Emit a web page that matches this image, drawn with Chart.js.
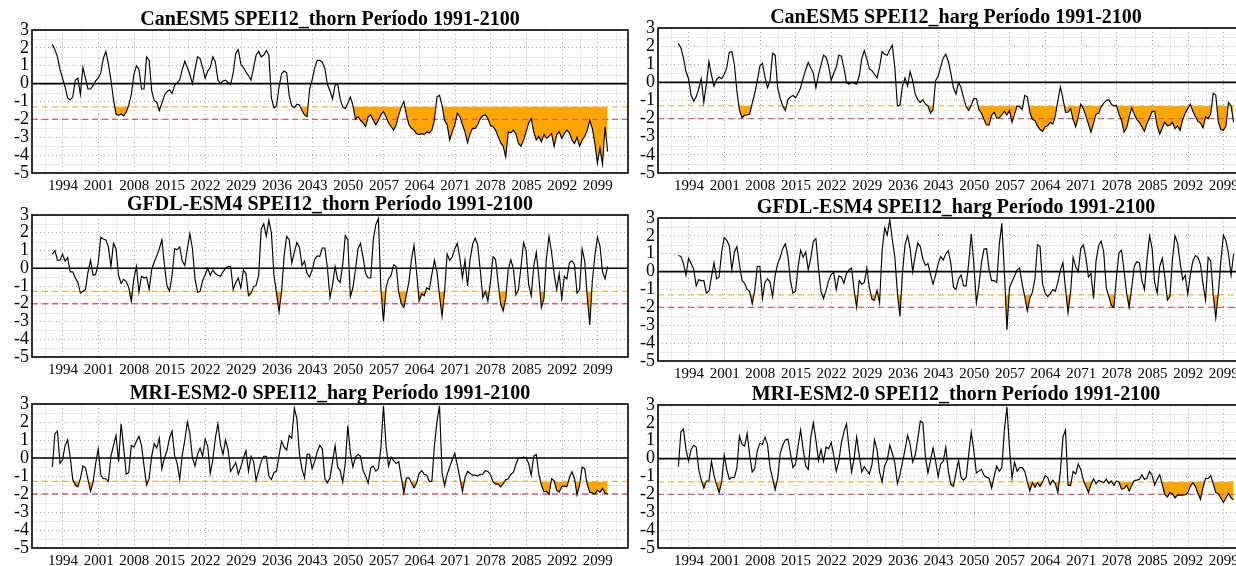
<!DOCTYPE html>
<html lang="es">
<head>
<meta charset="utf-8">
<title>SPEI12 Período 1991-2100</title>
<script src="https://cdn.jsdelivr.net/npm/chart.js@4.4.1/dist/chart.umd.min.js"></script>
<style>
  html, body { margin: 0; padding: 0; background: #ffffff; overflow: hidden; width: 1236px; height: 566px; }
  canvas { position: absolute; }
</style>
</head>
<body>
<script>
// SPEI-12 series, one value every half year starting December 1991
const START_YEAR = 1991 + 11 / 12;
const STEP_YEARS = 0.5;
const TICK_YEARS = [1994, 2001, 2008, 2015, 2022, 2029, 2036, 2043, 2050, 2057, 2064, 2071, 2078, 2085, 2092, 2099];
const Y_TICKS = [-5, -4, -3, -2, -1, 0, 1, 2, 3];
const MODERATE_DROUGHT = -1.3;
const EXTREME_DROUGHT = -2;

const canesm5Thorn = [
  2.2, 1.9, 1.5, 0.8, 0.3, -0.2, -0.8, -0.9, -0.75, 0.2, 0.3, -0.6, 0.9, 0.3, -0.3, -0.3, -0.1, 0.15, 0.3, 0.6,
  1.4, 1.8, 1.1, 0.2, -0.9, -1.7, -1.78, -1.7, -1.8, -1.6, -1.2, -0.6, 0.5, 1.0, 0.8, -0.3, -0.3, 1.5, 1.3, -0.4,
  -0.95, -1.05, -1.5, -1.1, -0.65, -0.45, -0.35, -0.55, -0.1, 0.05, 0.2, 0.8, 1.25, 0.9, 0.5, 0.0, 0.8, 1.5, 1.4, 0.9,
  0.3, 0.7, 0.9, 1.5, 1.2, 0.2, 0.0, 0.15, 0.2, 0.05, -0.05, 0.6, 1.7, 1.9, 1.1, 0.9, 0.65, 0.45, 0.2, 0.9,
  1.6, 1.8, 1.5, 1.6, 1.85, 1.6, -0.8, -1.35, -1.25, -0.2, 0.55, 0.7, 0.6, -0.7, -1.25, -1.35, -1.15, -1.2, -1.5, -1.75,
  -1.85, -0.3, 0.2, 0.9, 1.3, 1.3, 1.2, 0.85, -0.05, -0.4, -0.85, -0.1, 0.0, -0.85, -1.3, -1.4, -1.1, -0.75, -1.2, -2.0,
  -1.85, -2.05, -2.2, -2.4, -1.85, -1.75, -2.05, -2.3, -2.05, -1.75, -1.55, -1.85, -2.2, -2.4, -2.6, -2.3, -1.75, -1.3, -1.0, -1.75,
  -2.3, -2.5, -2.6, -2.8, -2.85, -2.8, -2.85, -2.7, -2.75, -2.6, -2.05, -0.75, -0.65, -1.2, -2.05, -2.3, -3.15, -2.7, -2.3, -1.65,
  -1.85, -2.3, -2.7, -3.3, -2.8, -2.5, -2.5, -2.3, -1.95, -1.8, -1.75, -1.95, -2.35, -2.4, -2.6, -2.95, -3.3, -3.5, -4.1, -2.7,
  -2.75, -2.6, -2.8, -3.35, -3.5, -3.15, -2.7, -2.2, -1.95, -2.7, -3.15, -2.95, -3.25, -2.85, -3.05, -2.95, -2.8, -3.5, -2.85, -2.7,
  -3.05, -2.8, -2.6, -2.75, -3.15, -3.35, -3.0, -3.5, -3.15, -2.95, -2.6, -2.05, -2.5, -3.35, -4.45, -3.6, -4.5, -2.4, -3.8
];

const canesm5Harg = [
  2.15, 1.9, 1.35, 0.6, 0.2, -0.7, -1.05, -0.8, -0.35, 0.2, -1.1, -0.1, 1.15, 0.4, -0.2, 0.15, 0.3, 0.2, 0.45, 0.8,
  1.65, 1.7, 1.0, -0.5, -1.55, -1.95, -1.82, -1.8, -1.75, -1.15, -0.6, 0.1, 0.9, 1.05, 0.3, -0.3, 0.1, 1.6, 1.5, -0.3,
  -0.9, -1.3, -1.55, -0.95, -0.8, -0.72, -0.85, -0.6, -0.3, 0.25, 0.7, 1.1, 0.8, 0.5, -0.3, 0.4, 0.95, 1.5, 1.4, 0.9,
  0.1, 0.5, 0.85, 1.5, 1.45, 0.8, 0.0, -0.1, 0.0, -0.05, -0.1, 0.35, 1.3, 1.75, 1.3, 0.75, 0.65, 0.45, 0.25, 0.85,
  1.7, 1.55, 1.5, 1.8, 2.05, 0.8, -1.3, -1.25, -0.2, 0.25, -0.2, 0.6, 0.1, -0.65, -0.95, -1.1, -0.95, -1.2, -1.3, -1.7,
  -1.5, 0.1, 0.33, 0.85, 1.35, 1.55, 1.15, 0.5, -0.3, -0.65, 0.0, -0.3, -0.85, -1.35, -1.55, -1.25, -0.9, -0.9, -1.5, -1.7,
  -2.05, -2.35, -2.35, -1.8, -1.65, -1.97, -1.95, -1.8, -1.6, -1.8, -1.55, -2.2, -1.75, -1.3, -1.35, -1.5, -0.72, -0.8, -1.65, -2.05,
  -2.1, -2.4, -2.6, -2.7, -2.45, -2.4, -2.2, -2.3, -1.85, -1.0, -0.25, -0.9, -1.65, -1.65, -1.45, -2.05, -2.45, -1.9, -1.2, -1.45,
  -1.85, -2.3, -2.75, -2.25, -1.75, -1.7, -1.35, -1.15, -1.0, -0.95, -1.2, -1.3, -1.28, -1.75, -2.1, -2.75, -2.5, -1.9, -1.4, -1.75,
  -2.05, -2.2, -2.45, -2.7, -2.25, -1.95, -1.6, -1.6, -2.4, -2.85, -2.5, -2.2, -2.4, -2.35, -2.2, -2.55, -2.4, -2.65, -2.05, -1.7,
  -1.45, -1.2, -1.6, -1.88, -2.15, -2.25, -2.5, -1.9, -2.0, -1.75, -0.6, -0.7, -2.2, -2.6, -2.65, -2.4, -1.1, -1.3, -2.2
];

const gfdlThorn = [
  0.8, 1.0, 0.45, 0.45, 0.8, 0.4, 0.6, -0.2, -0.2, -0.55, -0.8, -1.4, -1.3, -1.2, -0.2, 0.45, -0.4, -0.35, 0.3, 1.75,
  1.65, 1.6, 1.2, 0.1, 1.4, 1.1, -0.4, -0.85, -0.63, -0.75, -1.1, -1.85, -0.6, 0.1, -1.35, -0.45, -0.55, -0.5, -1.2, -0.07,
  0.35, 0.7, 1.1, 1.6, 0.2, -1.0, -1.3, -0.4, 1.1, 1.05, 1.2, 0.4, 0.15, 1.1, 1.95, 1.1, -0.6, -1.35, -1.3, -0.7,
  -0.35, 0.0, -0.4, -0.1, -0.3, -0.4, -0.45, -0.2, 0.0, 0.1, 0.1, -1.2, -0.8, -0.55, -1.1, -0.1, -0.3, -1.55, -1.4, -1.05,
  -0.95, -0.4, 2.2, 2.5, 1.8, 2.7, 2.0, -0.4, -1.4, -2.45, -1.3, 0.7, 1.8, 1.6, 0.3, 0.9, 1.45, 1.2, 0.15, 0.4,
  -0.3, -0.5, -0.1, 0.5, 0.7, 0.67, 1.14, 1.14, 0.0, -1.65, -0.95, 0.1, -0.63, -0.8, 0.2, 1.85, 1.6, -1.6, -1.1, -0.1,
  1.1, 1.4, 0.6, -0.3, -0.55, -0.55, 1.6, 2.45, 2.8, -1.2, -3.0, -1.1, -0.6, -0.4, 0.2, 0.1, -1.35, -2.0, -2.2, -1.5,
  -0.75, 0.5, 1.3, -0.2, -1.85, -1.45, -1.55, -1.1, -1.2, -0.35, 0.45, -0.2, -1.55, -2.7, -1.3, 0.8, 0.45, 0.65, 1.1, 1.4,
  0.55, -0.55, 0.45, -1.0, 0.5, 1.35, 1.7, 1.3, -0.1, -1.65, -1.3, -1.85, -0.8, 0.65, 0.5, -0.8, -2.0, -2.4, -1.7, -0.05,
  0.48, 0.0, -1.5, -1.2, 0.1, 1.45, 1.0, -0.9, -1.55, 0.1, 0.9, -0.5, -2.2, -1.7, 0.6, 1.8, 0.9, -0.3, -1.2, -0.3,
  -1.7, -0.45, -0.6, 0.3, 0.42, 0.2, -1.4, -1.2, 1.1, 0.4, -1.6, -3.2, -0.7, 0.7, 1.75, 1.25, -0.2, -0.6, 0.1
];

const gfdlHarg = [
  0.9, 0.85, 0.45, -0.2, 0.75, 0.45, 0.15, -0.8, -0.45, -0.5, -0.5, -1.2, -1.1, -0.3, 0.5, -0.4, -0.3, 1.1, 1.9, 1.75,
  1.45, 0.1, 1.1, 1.4, 0.4, -0.5, -0.65, -1.0, -1.1, -1.8, -1.05, 0.3, 0.3, -1.5, -0.6, -0.4, -0.6, -1.4, -0.2, 0.45,
  0.8, 1.3, 1.55, 0.9, -0.5, -1.2, -1.1, 0.25, 1.2, 0.8, 1.1, 0.1, 0.75, 1.7, 1.85, 0.2, -1.1, -1.5, -1.05, -0.5,
  -0.15, -0.05, -1.0, -0.25, -0.3, -0.65, -0.1, 0.1, 0.2, -1.05, -2.0, -0.5, -0.7, -0.6, 0.2, -0.9, -1.55, -1.6, -1.05, -1.75,
  1.2, 2.45, 2.05, 2.9, 1.8, 0.8, -1.2, -2.5, -0.05, 1.5, 2.0, 1.3, 0.0, 0.9, 1.6, 1.4, 0.7, 0.35, 0.45, -0.15,
  -0.7, -0.2, 0.45, 0.85, 0.65, 1.0, 1.17, 0.45, -0.87, -1.0, -0.4, -0.2, -0.8, -0.8, 0.5, 2.1, 0.45, -1.75, -0.8, 0.5,
  1.26, 1.28, 0.1, -0.5, -0.5, -0.6, 1.5, 2.7, 0.0, -3.25, -0.9, -0.55, -0.25, 0.1, 0.2, -0.7, -1.4, -2.2, -1.5, -1.15,
  -0.4, 1.5, 1.4, -0.7, -1.2, -1.4, -1.24, -1.0, -1.1, -0.6, 0.1, 0.5, -0.95, -2.3, -1.15, 0.8, 0.25, 0.0, 1.3, 1.5,
  0.8, -0.3, -0.1, -1.5, 0.6, 1.45, 1.7, 1.1, -0.9, -1.4, -1.9, -2.0, -0.3, 1.05, 1.2, 0.05, -1.2, -2.0, -0.9, 0.3,
  0.55, 0.5, -0.5, -1.0, 0.7, 2.0, 1.3, -0.6, -1.2, 0.3, 0.75, -0.3, -1.6, -1.4, 0.7, 2.0, 1.6, 0.5, -0.45, -0.2,
  -1.25, -0.2, 0.6, 0.9, 0.8, 0.4, -0.7, -1.6, 0.8, 0.6, -1.3, -2.6, -1.2, 0.6, 2.05, 1.72, 1.0, -0.2, 1.0
];

const mriHarg = [
  -0.5, 1.35, 1.5, -0.3, -0.1, 0.7, 1.0, 0.05, -1.2, -1.5, -1.6, -1.15, -0.45, -0.55, -1.2, -1.85, -1.35, -0.3, 0.5, -0.95,
  -1.15, -1.15, -1.3, 0.1, 0.7, 1.25, -0.2, 1.9, 0.55, -0.9, -0.8, 0.7, 0.6, 0.93, 1.2, 0.7, -0.45, -1.5, -1.15, 0.1,
  0.8, 0.55, 1.1, -0.6, 0.0, 0.4, 1.1, 1.5, 0.15, -0.3, -1.2, 0.15, 1.0, 2.0, 1.35, 0.0, -0.45, 0.2, 0.55, 0.1,
  1.05, 0.65, -0.85, -0.1, 1.1, 1.9, 0.74, 0.2, 1.0, 0.45, -0.75, -0.5, -0.25, -0.9, -0.5, 0.0, 0.4, -0.74, 0.1, -0.2,
  -1.25, -0.7, -0.2, 0.1, 0.1, -1.0, -1.2, -0.8, -0.74, 0.15, 0.93, 0.6, 0.45, 1.25, 1.1, 2.75, 2.2, 0.25, -0.6, -1.1,
  0.2, 0.2, -0.6, -0.2, 0.35, 0.7, 0.5, -1.15, -1.38, -1.1, -0.2, 0.7, -0.5, -0.7, -1.35, -0.3, 1.8, 0.3, -0.5, 0.05,
  0.2, 0.1, -0.7, -1.0, -1.4, -0.55, -0.45, -0.73, -0.6, 0.6, 2.9, 0.7, -0.45, 0.05, -0.15, -0.3, -0.2, -1.1, -1.94, -1.1,
  -1.1, -1.38, -1.65, -1.4, -0.85, -0.7, -0.9, -0.95, -1.3, -1.3, 0.7, 2.0, 2.9, -0.8, -1.55, -0.9, -0.5, -0.1, 0.25, -0.4,
  -1.1, -1.85, -1.1, -0.75, -0.85, -0.95, -0.95, -1.0, -0.9, -0.9, -0.7, -0.75, -0.93, -1.3, -1.45, -1.45, -1.6, -1.43, -1.2, -1.15,
  -0.9, -0.8, -0.35, 0.0, 0.0, 0.05, 0.0, -0.3, -0.95, 0.1, 0.2, -0.9, -1.5, -1.87, -1.85, -2.02, -1.15, -1.25, -1.8, -1.9,
  -1.6, -1.55, -1.6, -1.1, -0.77, -1.15, -2.05, -1.5, -0.5, -0.6, -1.45, -1.9, -1.95, -2.0, -1.8, -1.9, -1.7, -1.94, -2.0
];

const mriThorn = [
  -0.45, 1.5, 1.65, 0.5, -0.15, 0.5, 0.75, 0.65, -0.6, -1.2, -1.65, -1.25, -1.25, -0.15, -0.95, -1.45, -1.9, -1.3, 0.2, -0.6,
  -1.15, -1.05, -1.05, -0.5, 1.25, 0.8, 0.7, 1.4, 0.2, -0.75, -0.56, 0.45, 0.85, 0.8, 1.2, 0.8, -0.5, -1.1, -1.75, -1.1,
  0.3, 0.75, 1.05, 1.1, 0.3, -0.5, -0.3, 0.7, 1.6, 0.5, -0.4, -0.6, 1.2, 2.0, 1.05, -0.1, 0.5, -0.15, 0.65, 0.55,
  0.9, 0.19, -0.7, -0.15, 0.9, 1.5, 1.95, 0.6, -0.75, 0.0, 1.21, 0.2, -0.75, -0.45, -0.65, -0.85, -0.35, 1.05, 0.5, -0.75,
  -1.3, -0.4, -0.1, 0.75, 0.3, -0.25, -1.4, -0.9, -0.2, 0.5, 1.3, 0.8, -0.2, 0.2, 1.1, 2.1, 2.0, 0.1, -0.8, -0.1,
  0.6, -0.15, -1.0, -0.3, -0.15, 0.65, -0.7, -1.45, -1.55, -0.8, -0.1, -1.05, -1.2, -1.05, 0.25, 1.48, 0.45, -0.8, -0.7, -0.6,
  -0.93, -1.05, -1.1, -1.65, -1.0, -0.42, -0.7, -0.5, 1.6, 2.9, 0.6, -1.1, -0.2, -0.7, -0.5, -0.5, -0.7, -1.3, -1.8, -1.35,
  -1.6, -1.35, -1.55, -1.3, -0.95, -1.05, -1.45, -1.2, -1.4, -1.9, -0.7, 1.2, 1.6, -1.5, -1.5, -0.72, -0.85, -0.3, -0.6, -1.2,
  -1.55, -1.9, -1.45, -1.13, -1.4, -1.22, -1.28, -1.35, -1.15, -1.4, -1.25, -1.5, -1.25, -1.32, -1.7, -1.67, -1.48, -1.82, -1.5, -1.23,
  -1.2, -1.15, -0.9, -1.15, -1.1, -0.72, -0.93, -1.47, -1.15, -0.9, -1.45, -2.0, -2.15, -1.9, -1.96, -2.2, -2.03, -2.04, -2.04, -2.02,
  -1.92, -1.55, -1.35, -1.55, -1.95, -2.28, -1.6, -1.1, -1.11, -0.95, -1.4, -1.9, -1.97, -2.2, -2.45, -2.2, -1.95, -2.2, -2.3
];

// ---- layout and styling ----
const X_MIN = 1987.92;
const X_MAX = 2104.92;
const CANVAS_W = 640;
const Y_AXIS_W = 32;
const X_AXIS_H = 26;
const PAD_RIGHT = 12;

const SERIF = '"Liberation Serif", "Times New Roman", serif';
const ORANGE = '#FFA500';
const GOLD_LINE = '#E3B94A';
const RED_LINE = '#D6606A';
const GRID_MAJOR = '#a8a8a8';
const GRID_MINOR = '#ececec';

const panels = [
  { title: 'CanESM5 SPEI12_thorn Período 1991-2100', values: canesm5Thorn, left: 0,   top: 0,   plotTop: 30,  plotBottom: 173 },
  { title: 'CanESM5 SPEI12_harg Período 1991-2100',  values: canesm5Harg,  left: 626, top: 0,   plotTop: 28,  plotBottom: 173 },
  { title: 'GFDL-ESM4 SPEI12_thorn Período 1991-2100', values: gfdlThorn,  left: 0,   top: 188, plotTop: 215, plotBottom: 357 },
  { title: 'GFDL-ESM4 SPEI12_harg Período 1991-2100',  values: gfdlHarg,   left: 626, top: 188, plotTop: 218, plotBottom: 361 },
  { title: 'MRI-ESM2-0 SPEI12_harg Período 1991-2100', values: mriHarg,    left: 0,   top: 376, plotTop: 404, plotBottom: 548 },
  { title: 'MRI-ESM2-0 SPEI12_thorn Período 1991-2100', values: mriThorn,  left: 626, top: 376, plotTop: 405, plotBottom: 548 }
];

// light secondary grid halfway between the labelled ticks
const minorGrid = {
  id: 'minorGrid',
  beforeDraw(chart) {
    const { ctx, chartArea: a, scales } = chart;
    ctx.save();
    ctx.strokeStyle = GRID_MINOR;
    ctx.lineWidth = 1;
    ctx.beginPath();
    for (let i = 0; i < TICK_YEARS.length + 1; i++) {
      const yr = (i === 0 ? TICK_YEARS[0] - 7 : TICK_YEARS[i - 1]) + 3.5;
      const px = Math.round(scales.x.getPixelForValue(yr)) + 0.5;
      if (px > a.left && px < a.right) { ctx.moveTo(px, a.top); ctx.lineTo(px, a.bottom); }
    }
    for (let i = 0; i < Y_TICKS.length - 1; i++) {
      const py = Math.round(scales.y.getPixelForValue(Y_TICKS[i] + 0.5)) + 0.5;
      ctx.moveTo(a.left, py); ctx.lineTo(a.right, py);
    }
    ctx.stroke();
    ctx.restore();
  }
};

// plot frame and panel title
const frameAndTitle = {
  id: 'frameAndTitle',
  afterDatasetsDraw(chart, args, opts) {
    const { ctx, chartArea: a } = chart;
    ctx.save();
    ctx.strokeStyle = '#000';
    ctx.lineWidth = 1.6;
    ctx.strokeRect(a.left, a.top, a.right - a.left, a.bottom - a.top);
    ctx.fillStyle = '#000';
    ctx.font = 'bold 20px ' + SERIF;
    ctx.textAlign = 'center';
    ctx.textBaseline = 'alphabetic';
    ctx.fillText(opts.text, (a.left + a.right) / 2, a.top - 5);
    ctx.restore();
  }
};

function hline(value, color, width, dash) {
  return {
    data: [{ x: X_MIN, y: value }, { x: X_MAX, y: value }],
    borderColor: color, borderWidth: width, borderDash: dash,
    pointRadius: 0, fill: false, tension: 0
  };
}

panels.forEach(p => {
  const h = p.plotBottom - p.top + X_AXIS_H;
  const canvas = document.createElement('canvas');
  canvas.width = CANVAS_W;
  canvas.height = h;
  canvas.style.left = p.left + 'px';
  canvas.style.top = p.top + 'px';
  canvas.style.width = CANVAS_W + 'px';
  canvas.style.height = h + 'px';
  document.body.appendChild(canvas);

  const series = p.values.map((v, i) => ({ x: START_YEAR + i * STEP_YEARS, y: v }));

  new Chart(canvas, {
    type: 'line',
    data: {
      datasets: [
        {
          data: series,
          borderColor: '#000',
          borderWidth: 1.15,
          pointRadius: 0,
          tension: 0,
          fill: { target: { value: MODERATE_DROUGHT }, above: 'rgba(0,0,0,0)', below: ORANGE },
          order: 0
        },
        Object.assign(hline(0, '#000', 1.6, []), { order: 1 }),
        Object.assign(hline(MODERATE_DROUGHT, GOLD_LINE, 1.3, [6, 4]), { order: 2 }),
        Object.assign(hline(EXTREME_DROUGHT, RED_LINE, 1.3, [6, 4]), { order: 3 })
      ]
    },
    options: {
      responsive: false,
      animation: false,
      devicePixelRatio: 1,
      events: [],
      layout: { padding: { top: p.plotTop - p.top, right: PAD_RIGHT, left: 0, bottom: 0 } },
      plugins: {
        legend: { display: false },
        tooltip: { enabled: false },
        filler: { drawTime: 'beforeDatasetsDraw' },
        frameAndTitle: { text: p.title }
      },
      scales: {
        x: {
          type: 'linear',
          min: X_MIN,
          max: X_MAX,
          afterBuildTicks: s => { s.ticks = TICK_YEARS.map(v => ({ value: v })); },
          afterFit: s => { s.height = X_AXIS_H; },
          ticks: {
            autoSkip: false, maxRotation: 0, padding: 4, color: '#000',
            font: { family: SERIF, size: 15 },
            callback: v => String(v)
          },
          grid: { color: GRID_MAJOR, lineWidth: 1, drawTicks: false },
          border: { display: false, dash: [1, 3] }
        },
        y: {
          min: -5,
          max: 3,
          afterBuildTicks: s => { s.ticks = Y_TICKS.map(v => ({ value: v })); },
          afterFit: s => { s.width = Y_AXIS_W; },
          ticks: {
            autoSkip: false, padding: 3, color: '#000',
            font: { family: SERIF, size: 18 },
            callback: v => String(v)
          },
          grid: { color: GRID_MAJOR, lineWidth: 1, drawTicks: false },
          border: { display: false, dash: [1, 3] }
        }
      }
    },
    plugins: [minorGrid, frameAndTitle]
  });
});
</script>
</body>
</html>
